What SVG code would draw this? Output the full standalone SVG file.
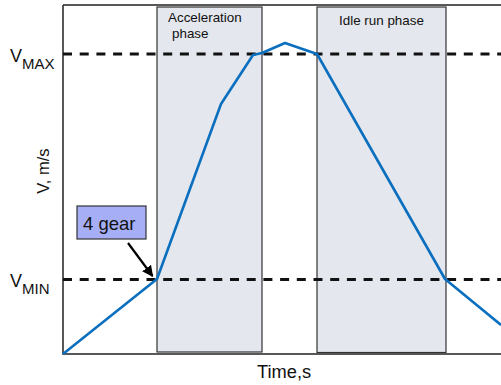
<svg xmlns="http://www.w3.org/2000/svg" width="501" height="385" viewBox="0 0 501 385">
  <style>
    .phase { fill: #e4e7ed; stroke: #333; stroke-width: 1.2; }
    .axis { fill: none; stroke: #222; stroke-width: 1.5; }
    .dash { fill: none; stroke: #111; stroke-width: 2.8; stroke-dasharray: 9 7.7; }
    .speed { fill: none; stroke: #0a6fbe; stroke-width: 2.6; stroke-linejoin: round; }
    .lbl { font-family: "Liberation Sans", Arial, sans-serif; fill: #111; }
    .phaselbl { font-family: "Liberation Sans", Arial, sans-serif; font-size: 13.4px; fill: #111; }
  </style>
  <defs>
    <marker id="arrowhead" viewBox="0 0 10 10" refX="9" refY="5" markerWidth="5" markerHeight="5" orient="auto" markerUnits="strokeWidth">
      <path d="M0,0 L10,5 L0,10 z" fill="#000"/>
    </marker>
  </defs>
  <rect x="0" y="0" width="501" height="385" fill="#fff"/>

  <!-- phase regions -->
  <g id="acceleration-phase">
    <rect class="phase" x="157" y="7" width="105" height="345"/>
    <text class="phaselbl" x="168" y="22">Acceleration</text>
    <text class="phaselbl" x="172" y="38">phase</text>
  </g>
  <g id="idle-run-phase">
    <rect class="phase" x="317" y="7" width="129" height="345.5"/>
    <text class="phaselbl" x="339" y="25">Idle run phase</text>
  </g>

  <!-- axes -->
  <g id="axes">
    <path class="axis" d="M63,5 H501 M63,5 V354 H501"/>
    <text class="lbl" font-size="18.3" x="257" y="378">Time,s</text>
    <text class="lbl" font-size="16.5" transform="translate(49,171) rotate(-90)" text-anchor="middle">V, m/s</text>
  </g>

  <!-- speed thresholds -->
  <g id="vmax">
    <path class="dash" d="M63,54 H501"/>
    <text class="lbl" x="10" y="62" font-size="18">V<tspan font-size="15" dy="7">MAX</tspan></text>
  </g>
  <g id="vmin">
    <path class="dash" d="M63,279.5 H501"/>
    <text class="lbl" x="10" y="287" font-size="18">V<tspan font-size="15" dy="7">MIN</tspan></text>
  </g>

  <!-- speed profile -->
  <g id="connectors">
    <polyline class="speed" points="63,354 157,279 221,104 253,55 262,53 285,43 317,54 445,279 501,325"/>
    <line x1="128" y1="243" x2="152.5" y2="276" stroke="#000" stroke-width="2.2" marker-end="url(#arrowhead)"/>
  </g>

  <!-- gear callout -->
  <g id="gear-label">
    <rect x="77" y="206" width="69" height="33" fill="#a6aef5" stroke="#333" stroke-width="1.2"/>
    <text class="lbl" font-size="18.5" x="83" y="230">4 gear</text>
  </g>
</svg>
